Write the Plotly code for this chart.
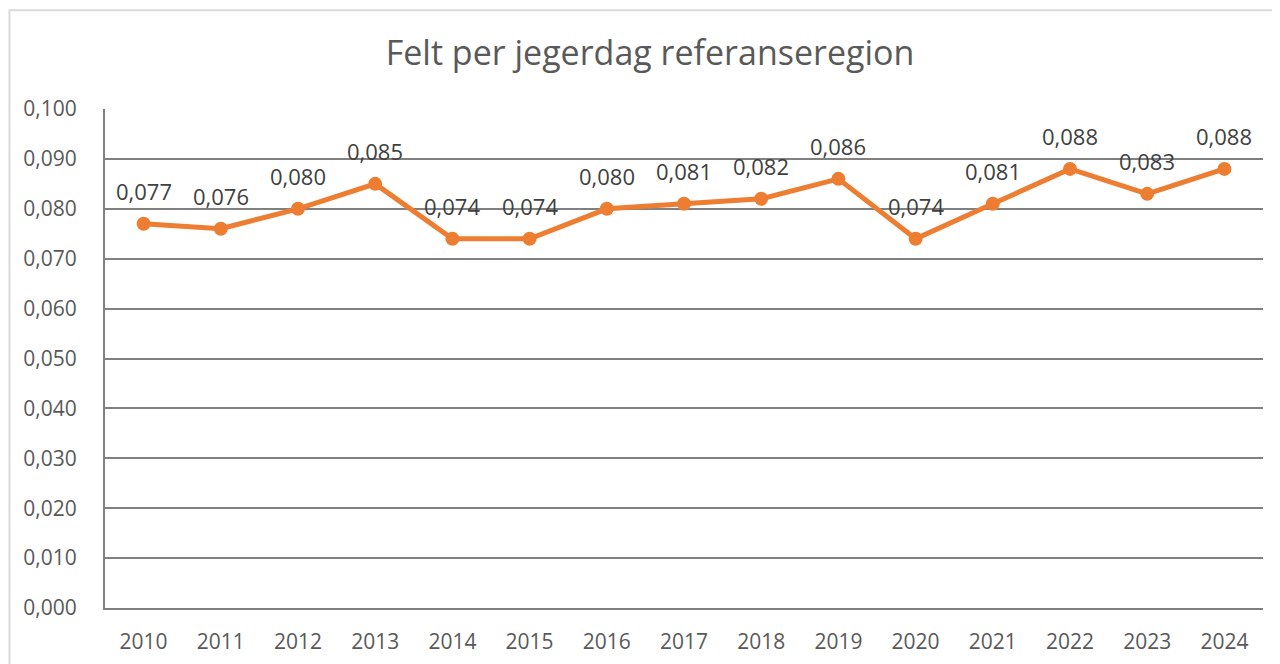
import plotly.graph_objects as go

years = ["2010", "2011", "2012", "2013", "2014", "2015", "2016", "2017", "2018", "2019", "2020", "2021", "2022", "2023", "2024"]
values = [0.077, 0.076, 0.080, 0.085, 0.074, 0.074, 0.080, 0.081, 0.082, 0.086, 0.074, 0.081, 0.088, 0.083, 0.088]
y_ticks = [0.0, 0.01, 0.02, 0.03, 0.04, 0.05, 0.06, 0.07, 0.08, 0.09, 0.10]
title_text = "Felt per jegerdag referanseregion"

FONT = "Open Sans"
ORANGE = "#ED7D31"

fig = go.Figure()
fig.add_trace(go.Scatter(
    x=years, y=values, mode="lines+markers",
    line=dict(color=ORANGE, width=5),
    marker=dict(color=ORANGE, size=14),
    hoverinfo="x+y",
))

for i, v in enumerate(values):
    fig.add_annotation(
        x=i, y=v, xref="x", yref="y", text=f"{v:.3f}".replace(".", ","),
        showarrow=False, yshift=33,
        font=dict(family=FONT, size=22, color="#404040"),
    )

fig.add_shape(type="rect", xref="paper", yref="paper",
              x0=-0.0825, x1=1.03, y0=-0.25, y1=1.198,
              line=dict(color="#D9D9D9", width=2), layer="below")

fig.update_layout(
    width=1280, height=664,
    margin=dict(l=97, r=25, t=101, b=64, autoexpand=False),
    paper_bgcolor="white", plot_bgcolor="white",
    separators=", ",
    showlegend=False,
    title=dict(text=title_text, x=0.5016, xanchor="center", y=0.932, yanchor="middle",
               font=dict(family=FONT, size=34, color="#595959"), automargin=False),
    font=dict(family=FONT, color="#595959"),
)
fig.update_xaxes(
    type="category", showgrid=False, showline=True, linecolor="#808080", linewidth=2,
    ticks="", tickfont=dict(family=FONT, size=21, color="#595959"), ticklabelstandoff=14,
    range=[-0.5, len(years) - 0.5], zeroline=False, automargin=False,
)
fig.update_yaxes(
    range=[0, 0.1], tickvals=y_ticks, tickformat=".3f",
    showgrid=True, gridcolor="#808080", gridwidth=1.5,
    showline=True, linecolor="#808080", linewidth=2, zeroline=False,
    ticks="", tickfont=dict(family=FONT, size=21, color="#595959"), ticklabelstandoff=22,
    automargin=False,
)

fig.write_html("out.html")
